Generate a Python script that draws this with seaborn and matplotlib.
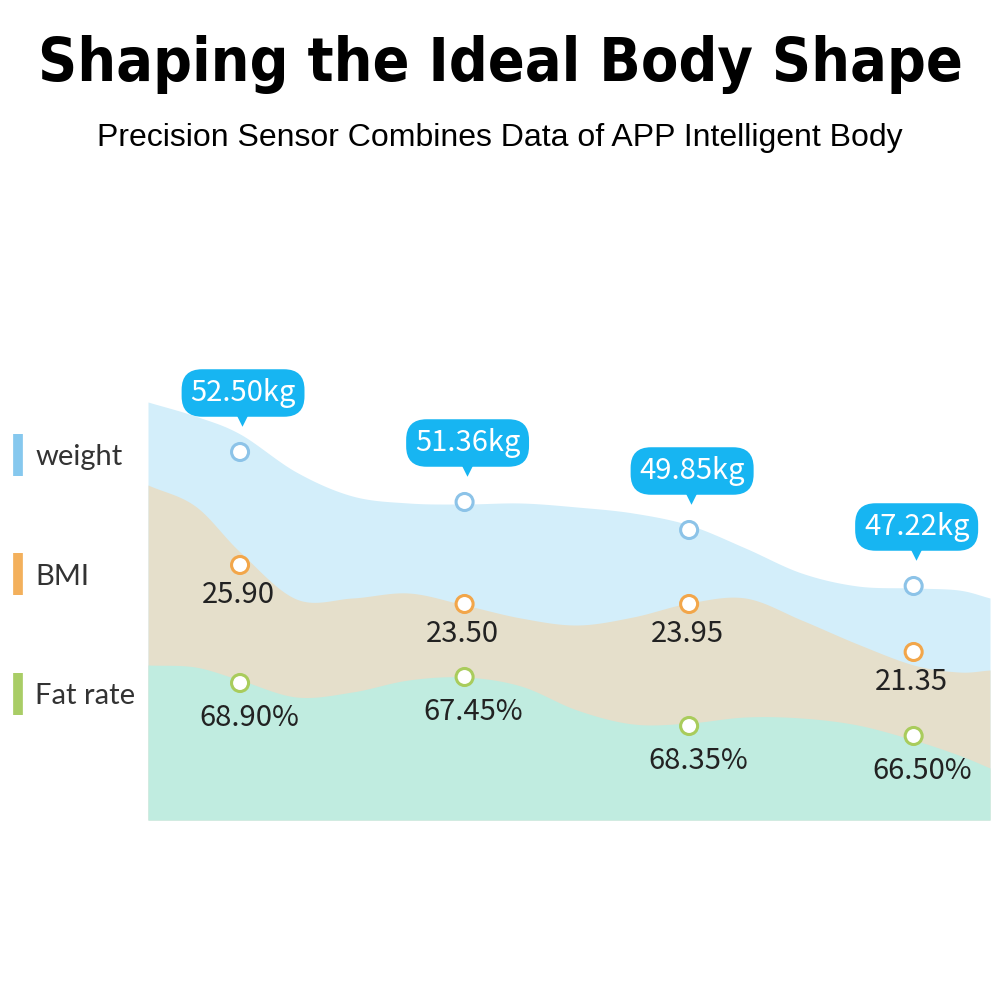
import numpy as np
import pandas as pd
import matplotlib
matplotlib.use("Agg")
import matplotlib.pyplot as plt
import seaborn as sns
from matplotlib.lines import Line2D
from matplotlib.transforms import offset_copy

# ------------------------------
# Data
# ------------------------------
days = [1, 2, 3, 4]
weight_labels = ["52.50kg", "51.36kg", "49.85kg", "47.22kg"]
bmi_labels = ["25.90", "23.50", "23.95", "21.35"]
fat_labels = ["68.90%", "67.45%", "68.35%", "66.50%"]

# plotted height of each marker on the chart's own level scale
weight_level = [368, 318, 290, 234]
bmi_level = [255, 216, 216, 168]
fat_level = [137, 143, 94, 84]

# top edges of the three bands (wavy, not exactly through the markers)
edge_x = [0.59, 0.8, 1.0, 1.25, 1.5, 1.75, 2.0, 2.25, 2.5, 2.75, 3.0,
          3.25, 3.5, 3.75, 4.0, 4.2, 4.34]
weight_edge = [418, 404, 386, 348, 324, 317, 316, 317, 313, 307, 295,
               272, 247, 234, 232, 230, 222]
bmi_edge = [335, 314, 268, 221, 222, 227, 215, 202, 195, 203, 217,
            222, 200, 176, 155, 148, 150]
fat_edge = [155, 153, 140, 123, 128, 140, 143, 134, 110, 96, 97,
            103, 102, 95, 80, 65, 52]

series_names = ["weight", "BMI", "Fat rate"]
band_colors = ["#d3eefa", "#e5dfcb", "#c0ece0"]
ring_colors = ["#8cc3e8", "#f2a64a", "#a9cc5c"]
legend_colors = ["#86c8ee", "#f3b05c", "#a9cd66"]
bubble_color = "#17b5f2"


def smooth(xs, ys, n=30):
    # Catmull-Rom through the control points
    xs = np.asarray(xs, float)
    ys = np.asarray(ys, float)
    px = np.concatenate([[2 * xs[0] - xs[1]], xs, [2 * xs[-1] - xs[-2]]])
    py = np.concatenate([[2 * ys[0] - ys[1]], ys, [2 * ys[-1] - ys[-2]]])
    out_x, out_y = [], []
    t = np.linspace(0, 1, n, endpoint=False)
    for i in range(1, len(px) - 2):
        for p, out in ((px, out_x), (py, out_y)):
            p0, p1, p2, p3 = p[i - 1], p[i], p[i + 1], p[i + 2]
            out.append(0.5 * (2 * p1 + (-p0 + p2) * t
                              + (2 * p0 - 5 * p1 + 4 * p2 - p3) * t ** 2
                              + (-p0 + 3 * p1 - 3 * p2 + p3) * t ** 3))
    out_x.append([xs[-1]])
    out_y.append([ys[-1]])
    return np.concatenate(out_x), np.concatenate(out_y)


sns.set_theme(style="white")
plt.rcParams["font.family"] = ["Noto Sans CJK SC", "DejaVu Sans"]

fig = plt.figure(figsize=(10, 10), dpi=100)
ax = fig.add_axes([0.148, 0.18, 0.842, 0.46])

# ------------------------------
# Bands
# ------------------------------
for edge, color in zip([weight_edge, bmi_edge, fat_edge], band_colors):
    xx, yy = smooth(edge_x, edge)
    ax.fill_between(xx, 0, yy, color=color, lw=0)

# ------------------------------
# Markers
# ------------------------------
df = pd.DataFrame({
    "day": days * 3,
    "level": weight_level + bmi_level + fat_level,
    "series": np.repeat(series_names, len(days)),
})
sns.scatterplot(data=df, x="day", y="level", hue="series",
                palette=dict(zip(series_names, ring_colors)),
                s=150, linewidth=2.2, legend=False, ax=ax, zorder=5)
# seaborn colours the face with hue; swap to white fill with coloured ring
coll = ax.collections[-1]
coll.set_edgecolor(coll.get_facecolor())
coll.set_facecolor("white")

# ------------------------------
# Labels
# ------------------------------
for x, y, lab in zip(days, weight_level, weight_labels):
    ax.annotate(lab, (x, y), xytext=(3, 59), textcoords="offset pixels",
                ha="center", va="center", color="white", fontsize=21,
                bbox=dict(boxstyle="round,pad=0.3,rounding_size=0.7",
                          fc=bubble_color, ec="none"), zorder=6)
tri_tf = offset_copy(ax.transData, fig=fig, x=2, y=33, units="dots")
ax.scatter(days, weight_level, marker="v", s=110, color=bubble_color,
           lw=0, transform=tri_tf, zorder=6)

for x, y, lab in zip(days, bmi_level, bmi_labels):
    ax.annotate(lab, (x, y), xytext=(-2, -30), textcoords="offset pixels",
                ha="center", va="center", color="#222222", fontsize=21)
for x, y, lab in zip(days, fat_level, fat_labels):
    ax.annotate(lab, (x, y), xytext=(9, -35), textcoords="offset pixels",
                ha="center", va="center", color="#222222", fontsize=21)

ax.set_xlim(0.59, 4.34)
ax.set_ylim(0, 460)
ax.axis("off")

# ------------------------------
# Legend
# ------------------------------
handles = [Line2D([], [], ls="none", marker="|", markersize=30,
                  markeredgewidth=7, color=c) for c in legend_colors]
fig.legend(handles, series_names, loc="upper left",
           bbox_to_anchor=(-0.016, 0.582), frameon=False,
           handlelength=0.5, handletextpad=0.35, labelspacing=3.2,
           borderpad=0.4, prop={"family": ["Lato", "DejaVu Sans"], "size": 21},
           labelcolor="#333333")

# ------------------------------
# Titles
# ------------------------------
title = fig.text(0.5, 0.935, "Shaping the Ideal Body Shape", ha="center",
                 va="center", fontsize=60, fontweight="heavy",
                 fontstretch="condensed",
                 family=["DejaVu Sans", "Liberation Sans"], color="black")
# shrink the title until it spans the same width as the reference
renderer = fig.canvas.get_renderer()
w = title.get_window_extent(renderer).width
if w > 926:
    title.set_fontsize(60 * 926 / w)

fig.text(0.5, 0.862, "Precision Sensor Combines Data of APP Intelligent Body",
         ha="center", va="center", fontsize=23,
         family=["Liberation Sans", "DejaVu Sans"], color="black")

fig.savefig("out.png", dpi=100, facecolor="white")
